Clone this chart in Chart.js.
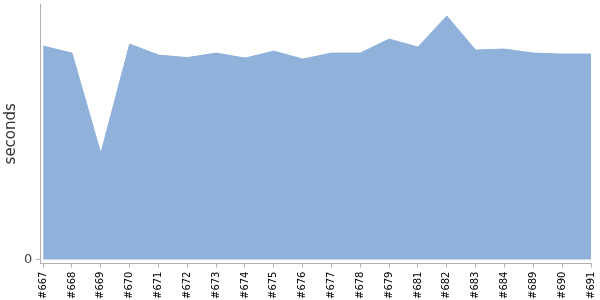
<!DOCTYPE html>
<html>
<head>
<meta charset="utf-8">
<script src="https://cdn.jsdelivr.net/npm/chart.js@4"></script>
<style>
  html, body { margin: 0; padding: 0; background: #fff; }
  #wrap { width: 600px; height: 300px; }
</style>
</head>
<body>
<div id="wrap"><canvas id="grafico"></canvas></div>
<script>
// builds (x axis) and their duration in seconds
const builds = ['#667', '#668', '#669', '#670', '#671', '#672', '#673', '#674', '#675', '#676',
                '#677', '#678', '#679', '#681', '#682', '#683', '#684', '#689', '#690', '#691'];
const seconds = [213, 206, 106, 215, 204, 201.5, 206, 201, 208, 200,
                 206, 206, 220, 212, 243, 209, 210, 206, 205, 205];
const yTicks = [0];

const fonte = 'DejaVu Sans';

// tira o espaço extra que o Chart.js reserva para os rótulos das pontas
const semSobra = s => { s.paddingTop = 0; s.paddingBottom = 0; s.paddingLeft = 0; s.paddingRight = 0; };

const grafico = new Chart(document.getElementById('grafico').getContext('2d'), {
    type: 'line',
    data: {
        datasets: [{
            label: 'duration',
            data: seconds.map((v, i) => ({ x: i, y: v })),
            borderColor: '#8fb1da',
            backgroundColor: '#8fb1da',
            borderWidth: 1,
            pointRadius: 0,
            tension: 0,
            fill: 'origin'
        }]
    },
    options: {
        responsive: true,
        maintainAspectRatio: false,
        animation: false,
        layout: { padding: { left: 2, right: 9, top: 4, bottom: -3 } },
        plugins: { legend: { display: false }, tooltip: { enabled: false } },
        scales: {
            x: {
                type: 'linear',
                min: -0.1,
                max: builds.length - 1,
                afterBuildTicks: s => { s.ticks = builds.map((_, i) => ({ value: i })); },
                afterFit: semSobra,
                ticks: {
                    callback: v => builds[v],
                    autoSkip: false,
                    minRotation: 90,
                    maxRotation: 90,
                    color: '#000',
                    padding: 4,
                    font: { family: fonte, size: 10 }
                },
                grid: { drawOnChartArea: false, tickLength: 4, color: '#b0b0b0' },
                border: { color: '#b0b0b0' }
            },
            y: {
                min: -4,
                max: 255,
                afterBuildTicks: s => { s.ticks = yTicks.map(v => ({ value: v })); },
                afterFit: semSobra,
                ticks: {
                    color: '#444',
                    padding: 4,
                    font: { family: fonte, size: 13 }
                },
                title: {
                    display: true,
                    text: 'seconds',
                    color: '#333',
                    padding: 0,
                    font: { family: fonte, size: 15 }
                },
                grid: { drawOnChartArea: false, tickLength: 4, color: '#b0b0b0' },
                border: { color: '#b0b0b0' }
            }
        }
    }
});
</script>
</body>
</html>
